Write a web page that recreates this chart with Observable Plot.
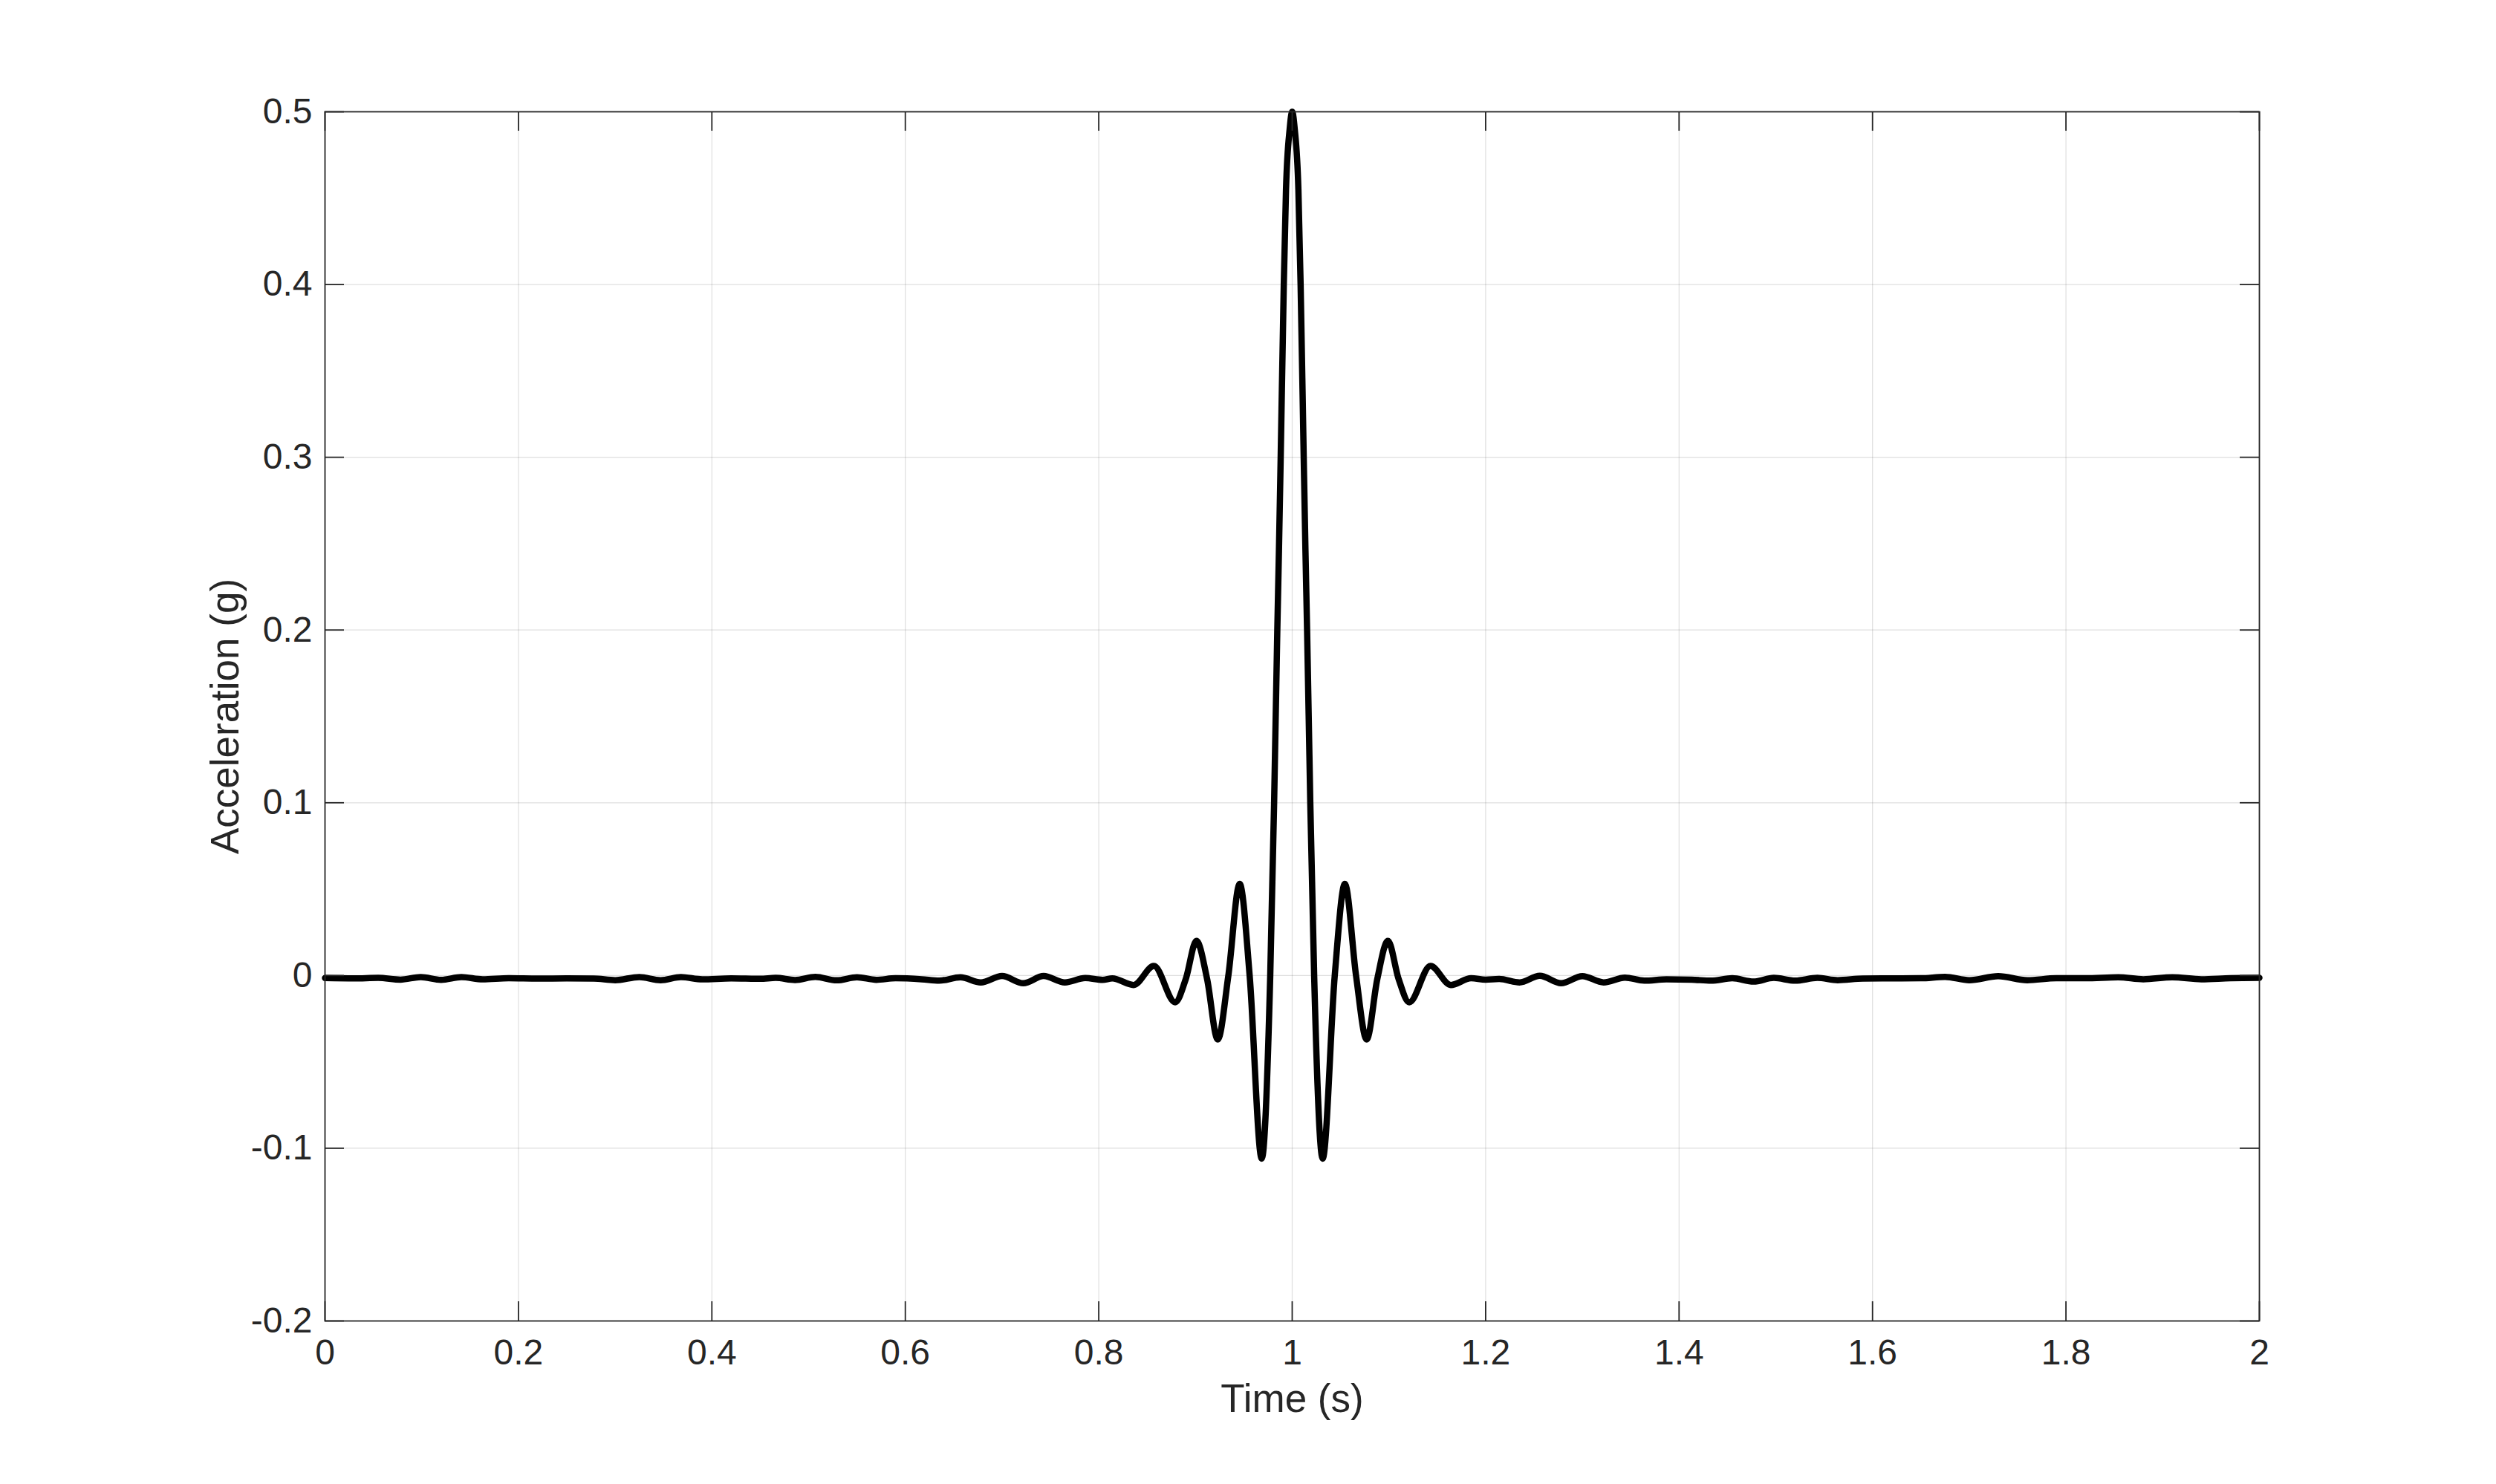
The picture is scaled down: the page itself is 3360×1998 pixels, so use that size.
<!DOCTYPE html>
<html>
<head>
<meta charset="utf-8">
<script src="https://cdn.jsdelivr.net/npm/d3@7"></script>
<script src="https://cdn.jsdelivr.net/npm/@observablehq/plot@0.6"></script>
<style>
  html, body { margin: 0; padding: 0; background: #ffffff; }
  #chart { width: 3360px; height: 1998px; }
</style>
</head>
<body>
<div id="chart"></div>
<script>
// ---- data ----
const timeS = [
  0.000, 0.030, 0.055, 0.078, 0.099, 0.120, 0.141, 0.163, 0.190, 0.220,
  0.250, 0.278, 0.300, 0.325, 0.347, 0.368, 0.390, 0.420, 0.450, 0.466,
  0.486, 0.507, 0.529, 0.550, 0.570, 0.590, 0.617, 0.635, 0.657, 0.678,
  0.700, 0.722, 0.743, 0.765, 0.786, 0.804, 0.814, 0.836, 0.857, 0.879,
  0.890, 0.901, 0.912, 0.923, 0.934, 0.9457, 0.956, 0.9685, 0.9773, 0.9813,
  0.9846, 0.9863, 0.9881, 0.9913, 0.9936, 0.9974, 1.000,
  1.0026, 1.0064, 1.0087, 1.0119, 1.0137, 1.0154, 1.0187, 1.0227, 1.0315, 1.044,
  1.0545, 1.066, 1.077, 1.088, 1.099, 1.110, 1.121, 1.143, 1.164, 1.185,
  1.200, 1.214, 1.235, 1.256, 1.278, 1.300, 1.322, 1.344, 1.364, 1.387,
  1.413, 1.433, 1.455, 1.477, 1.498, 1.520, 1.543, 1.564, 1.590, 1.620,
  1.650, 1.675, 1.700, 1.730, 1.760, 1.790, 1.820, 1.854, 1.880, 1.910,
  1.940, 1.970, 2.000
];
const accelG = [
  -0.0015, -0.0017, -0.0014, -0.0024, -0.0009, -0.0025, -0.0009, -0.0022, -0.0016, -0.0018,
  -0.0017, -0.0018, -0.0027, -0.0009, -0.0027, -0.0009, -0.0022, -0.0017, -0.0019, -0.0014,
  -0.0026, -0.0008, -0.0028, -0.0010, -0.0025, -0.0016, -0.0022, -0.0030, -0.0010, -0.0040,
  -0.0003, -0.0045, -0.0003, -0.0040, -0.0015, -0.0025, -0.0017, -0.0055, 0.0055, -0.0155,
  -0.0020, 0.0200, -0.0020, -0.0370, 0.0000, 0.0530, 0.0000, -0.1060, 0.0000, 0.1000,
  0.2000, 0.2460, 0.3000, 0.4000, 0.4550, 0.4900, 0.5000,
  0.4900, 0.4550, 0.4000, 0.3000, 0.2460, 0.2000, 0.1000, 0.0000, -0.1060, 0.0000,
  0.0530, 0.0000, -0.0370, -0.0020, 0.0200, -0.0020, -0.0155, 0.0055, -0.0055, -0.0016,
  -0.0024, -0.0020, -0.0040, -0.0002, -0.0045, -0.0004, -0.0040, -0.0012, -0.0030, -0.0022,
  -0.0024, -0.0030, -0.0016, -0.0035, -0.0014, -0.0030, -0.0014, -0.0027, -0.0018, -0.0017,
  -0.0016, -0.0008, -0.0027, -0.0004, -0.0027, -0.0016, -0.0016, -0.0010, -0.0022, -0.0010,
  -0.0022, -0.0016, -0.0014
];
const xTicks = [0, 0.2, 0.4, 0.6, 0.8, 1, 1.2, 1.4, 1.6, 1.8, 2];
const yTicks = [-0.2, -0.1, 0, 0.1, 0.2, 0.3, 0.4, 0.5];
const xLabel = "Time (s)";
const yLabel = "Acceleration (g)";

const series = timeS.map((t, i) => ({t, a: accelG[i]}));

const W = 3360, H = 1998;
const mL = 437, mR = 319, mT = 150, mB = 220;
const plotW = W - mL - mR, plotH = H - mT - mB;
const tickLen = 26;
const ink = "#262626";

const chart = Plot.plot({
  width: W,
  height: H,
  marginLeft: mL,
  marginRight: mR,
  marginTop: mT,
  marginBottom: mB,
  style: {fontFamily: "'Liberation Sans', Arial, Helvetica, sans-serif", fontSize: "48px", color: ink, background: "#ffffff"},
  x: {domain: [0, 2], label: null},
  y: {domain: [-0.2, 0.5], label: null},
  marks: [
    Plot.gridX(xTicks, {stroke: ink, strokeOpacity: 0.15, strokeWidth: 1.2}),
    Plot.gridY(yTicks, {stroke: ink, strokeOpacity: 0.15, strokeWidth: 1.2}),
    Plot.line(series, {x: "t", y: "a", stroke: "#000000", strokeWidth: 8.5, curve: "monotone-x", strokeLinejoin: "round"}),
    Plot.frame({stroke: ink, strokeWidth: 1.8}),
    // inward ticks on all four sides
    Plot.tickX(xTicks, {x: d => d, stroke: ink, strokeWidth: 1.8, insetTop: plotH - tickLen}),
    Plot.tickX(xTicks, {x: d => d, stroke: ink, strokeWidth: 1.8, insetBottom: plotH - tickLen}),
    Plot.tickY(yTicks, {y: d => d, stroke: ink, strokeWidth: 1.8, insetRight: plotW - tickLen}),
    Plot.tickY(yTicks, {y: d => d, stroke: ink, strokeWidth: 1.8, insetLeft: plotW - tickLen}),
    Plot.axisX(xTicks, {anchor: "bottom", tickSize: 0, tickPadding: 24, tickFormat: d => String(d), fontSize: 48, fill: ink, label: null}),
    Plot.axisY(yTicks, {anchor: "left", tickSize: 0, tickPadding: 17, tickFormat: d => String(d), fontSize: 48, fill: ink, label: null}),
    Plot.text([xLabel], {frameAnchor: "bottom", dy: 85, lineAnchor: "top", textAnchor: "middle", fontSize: 53, fill: ink}),
    Plot.text([yLabel], {frameAnchor: "left", dx: -133, rotate: -90, textAnchor: "middle", lineAnchor: "middle", fontSize: 53, fill: ink})
  ]
});
document.getElementById("chart").appendChild(chart);
</script>
</body>
</html>
